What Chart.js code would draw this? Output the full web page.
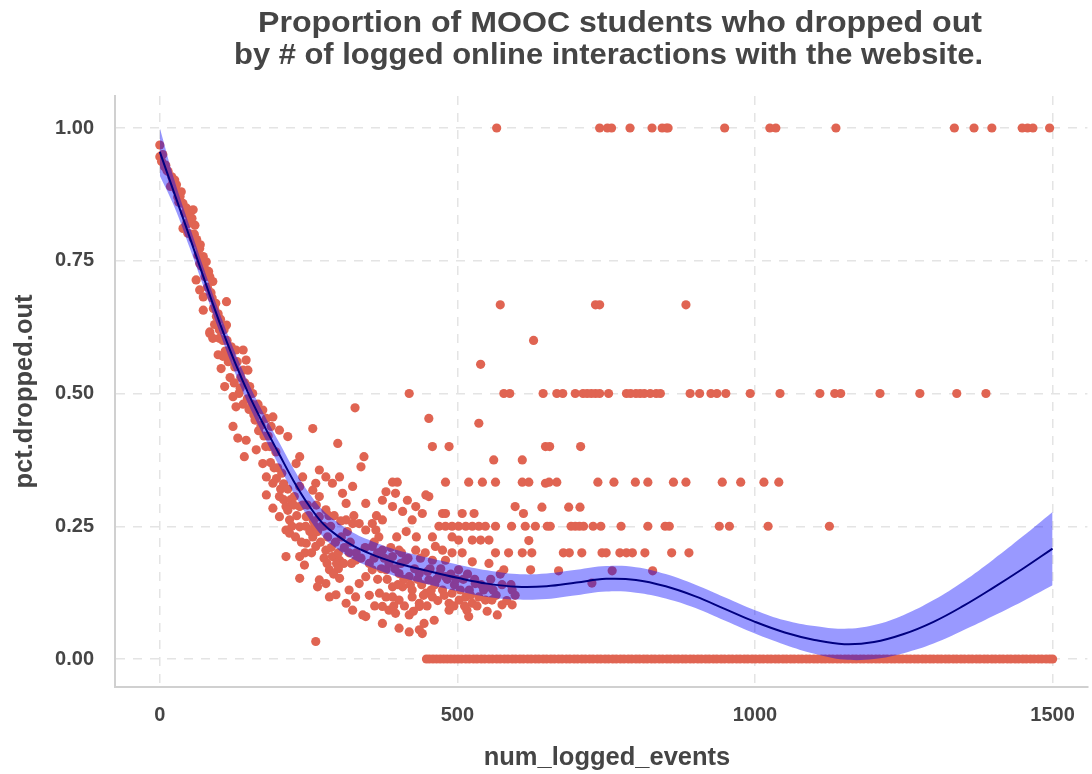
<!DOCTYPE html>
<html>
<head>
<meta charset="utf-8">
<script src="https://cdn.jsdelivr.net/npm/chart.js@4.4.1/dist/chart.umd.min.js"></script>
<style>
  html, body { margin: 0; padding: 0; background: #ffffff; }
  #wrap { width: 1092px; height: 774px; position: relative; }
</style>
</head>
<body>
<div id="wrap"><canvas id="c" width="1092" height="774"></canvas></div>
<script>
// ---------------- DATA ----------------
const titleLines = ['Proportion of MOOC students who dropped out', 'by # of logged online interactions with the website.'];
const xAxisTitle = 'num_logged_events';
const yAxisTitle = 'pct.dropped.out';

const xTicks = [0, 500, 1000, 1500];
const xTickLabels = ['0', '500', '1000', '1500'];
const yTicks = [0, 0.25, 0.5, 0.75, 1];
const yTickLabels = ['0.00', '0.25', '0.50', '0.75', '1.00'];

// loess smoother and its confidence band
const smoothX     = [0, 25, 50, 75, 100, 125, 150, 175, 200, 225, 250, 275, 300, 325, 350, 375, 400, 450, 500, 550, 600, 650, 700, 750, 800, 850, 900, 950, 1000, 1050, 1100, 1150, 1200, 1250, 1300, 1350, 1400, 1450, 1500];
const smoothFit   = [0.955, 0.875, 0.795, 0.714, 0.635, 0.562, 0.497, 0.44, 0.387, 0.335, 0.29, 0.254, 0.231, 0.213, 0.2, 0.189, 0.18, 0.166, 0.153, 0.142, 0.136, 0.137, 0.144, 0.151, 0.149, 0.137, 0.118, 0.094, 0.07, 0.05, 0.036, 0.028, 0.032, 0.047, 0.07, 0.1, 0.134, 0.17, 0.208];
const smoothLower = [0.91, 0.85, 0.775, 0.696, 0.617, 0.543, 0.477, 0.419, 0.365, 0.312, 0.266, 0.229, 0.206, 0.188, 0.175, 0.164, 0.155, 0.141, 0.128, 0.117, 0.112, 0.113, 0.12, 0.127, 0.125, 0.114, 0.096, 0.072, 0.048, 0.027, 0.01, -0.001, 0.0, 0.011, 0.029, 0.054, 0.081, 0.109, 0.139];
const smoothUpper = [1.0, 0.9, 0.815, 0.732, 0.653, 0.581, 0.517, 0.461, 0.409, 0.358, 0.314, 0.279, 0.256, 0.238, 0.225, 0.214, 0.205, 0.191, 0.178, 0.167, 0.16, 0.161, 0.168, 0.175, 0.173, 0.16, 0.14, 0.116, 0.092, 0.073, 0.062, 0.057, 0.064, 0.083, 0.111, 0.146, 0.187, 0.231, 0.277];

// scattered students' groups: [num_logged_events, pct.dropped.out]
const cloudPoints = [
  [0,0.968],[0,0.946],[3,0.937],[8,0.927],[14,0.918],[20,0.908],[25,0.902],[28,0.893],[28,0.883],[34,0.871],
  [39,0.858],[45,0.849],[56,0.846],[50,0.833],[59,0.817],[45,0.82],[39,0.811],[47,0.802],[56,0.792],[61,0.783],
  [67,0.773],[73,0.758],[78,0.748],[67,0.745],[75,0.736],[84,0.72],[89,0.711],[61,0.714],[67,0.695],[73,0.682],
  [112,0.673],[92,0.66],[73,0.657],[95,0.645],[112,0.629],[84,0.616],[100,0.604],
  [10,0.93],[18,0.89],[30,0.87],[42,0.84],[52,0.8],[64,0.76],[70,0.74],[80,0.7],[86,0.69],[96,0.63],[104,0.62],[106,0.6],
  [5,0.95],[12,0.92],[22,0.9],[32,0.86],[36,0.88],[48,0.82],[54,0.83],[58,0.8],[62,0.79],[68,0.78],
  [72,0.75],[76,0.72],[82,0.73],[88,0.68],[90,0.66],[94,0.67],[98,0.65],[102,0.64],[108,0.62],[113,0.6],
  [116,0.58],[120,0.57],[126,0.55],[130,0.56],[135,0.51],[143,0.52],[147,0.49],[155,0.48],[158,0.46],[166,0.43],
  [175,0.42],[178,0.4],[186,0.37],[192,0.36],[196,0.34],[203,0.32],[208,0.3],
  [84,0.613],[89,0.604],[98,0.573],[103,0.547],[109,0.513],[120,0.588],[128,0.582],[140,0.582],[145,0.563],[140,0.544],
  [148,0.544],[123,0.494],[128,0.475],[123,0.438],[131,0.416],[142,0.381],[151,0.513],[156,0.5],[162,0.469],[173,0.469],
  [179,0.453],[190,0.456],[187,0.438],[201,0.431],[215,0.419],[145,0.412],[162,0.394],[173,0.368],[179,0.343],[190,0.331],
  [179,0.309],[201,0.306],[212,0.287],[190,0.284],[201,0.268],[218,0.262],[212,0.243],[218,0.237],[235,0.249],[246,0.268],
  [235,0.287],[226,0.306],[235,0.325],[240,0.343],[257,0.434],[229,0.368],[235,0.381],[268,0.356],[279,0.343],[262,0.331],
  [290,0.331],[302,0.343],[307,0.312],[313,0.293],[324,0.325],[299,0.406],[328,0.473],[343,0.381],[338,0.362],[346,0.293],
  [257,0.318],[268,0.306],[279,0.281],[268,0.268],[257,0.23],[246,0.218],[262,0.212],[279,0.205],[290,0.193],[302,0.186],
  [285,0.168],[268,0.149],[279,0.142],[285,0.117],[296,0.121],[313,0.105],[324,0.092],[341,0.083],[346,0.08],[212,0.193],
  [235,0.193],[243,0.177],[235,0.152],[265,0.136],[262,0.033],[329,0.186],[313,0.262],[324,0.255],[335,0.255],[346,0.243],
  [357,0.255],[363,0.243],[374,0.262],[380,0.315],[396,0.312],[374,0.299],[391,0.287],[408,0.278],[416,0.299],[424,0.262],
  [430,0.287],[447,0.309],[441,0.274],[452,0.306],[475,0.274],[480,0.274],[508,0.274],[528,0.274],[458,0.23],[491,0.23],
  [502,0.224],[525,0.224],[539,0.224],[553,0.224],[463,0.212],[475,0.205],[458,0.186],[480,0.186],[525,0.183],[553,0.18],
  [578,0.168],[623,0.168],[502,0.168],[480,0.155],[530,0.142],[553,0.136],[592,0.13],[357,0.212],[374,0.205],[391,0.193],
  [402,0.205],[413,0.186],[430,0.205],[380,0.168],[402,0.161],[419,0.155],[436,0.161],[452,0.149],[369,0.124],[380,0.117],
  [391,0.117],[402,0.111],[424,0.117],[436,0.105],[447,0.124],[458,0.117],[475,0.13],[491,0.124],[486,0.105],[503,0.111],
  [514,0.117],[525,0.105],[536,0.117],[547,0.111],[558,0.111],[575,0.102],[592,0.102],[374,0.099],[385,0.092],[396,0.086],
  [419,0.083],[436,0.099],[374,0.067],[402,0.058],[419,0.051],[436,0.055],[441,0.048],[444,0.067],[461,0.073],[486,0.092],
  [516,0.092],[519,0.08],[567,0.083],[391,0.136],[408,0.136],[424,0.13],[346,0.155],[357,0.168],[335,0.142],[329,0.117],
  [318,0.13],[302,0.152],[458,0.4],[486,0.4],[452,0.453],[539,0.555],[628,0.6],[536,0.444],[561,0.375],[609,0.375],
  [648,0.4],[655,0.4],[707,0.4],[597,0.287],[611,0.274],[642,0.286],[687,0.286],[706,0.286],[620,0.223],[648,0.331],
  [670,0.166],[760,0.166],[828,0.166],[726,0.143],
  [150,0.47],[160,0.45],[165,0.48],[170,0.44],[182,0.42],[185,0.4],[195,0.39],[198,0.36],[205,0.35],[208,0.33],
  [215,0.32],[220,0.3],[225,0.29],[230,0.27],[240,0.29],[245,0.25],[250,0.27],[252,0.24],[258,0.26],[265,0.24],
  [270,0.22],[275,0.25],[282,0.23],[288,0.21],[295,0.22],[300,0.2],[305,0.23],[310,0.21],[318,0.2],[322,0.18],
  [330,0.2],[338,0.19],[345,0.21],[352,0.18],[360,0.19],[366,0.2],[372,0.17],[385,0.18],[395,0.17],[405,0.18],
  [410,0.15],[428,0.17],[440,0.14],[450,0.165],[465,0.15],[470,0.16],[495,0.14],[510,0.15],[520,0.13],[540,0.14],
  [560,0.13],[575,0.14],[110,0.58],[115,0.56],[118,0.53],[125,0.52],[133,0.5],[136,0.53],[140,0.48],[100,0.62],
  [106,0.57],[92,0.63],
  [215,0.28],[222,0.25],[228,0.23],[238,0.22],[244,0.2],[248,0.29],[255,0.2],[260,0.25],[263,0.29],[272,0.25],
  [276,0.19],[284,0.27],[287,0.25],[293,0.27],[297,0.18],[304,0.26],[309,0.18],[315,0.24],[320,0.22],[326,0.27],
  [300,0.17],[292,0.16],[281,0.18],
  [360,0.22],[366,0.15],[368,0.23],[377,0.19],[382,0.15],[388,0.21],[393,0.1],[398,0.23],[400,0.14],[406,0.2],
  [411,0.1],[414,0.24],[417,0.19],[421,0.14],[426,0.09],[431,0.23],[433,0.15],[438,0.19],[443,0.12],[446,0.2],
  [449,0.1],[454,0.17],[456,0.13],[361,0.1],[352,0.12],[364,0.27],
  [462,0.14],[467,0.11],[472,0.17],[478,0.12],[483,0.15],[489,0.16],[494,0.1],[498,0.15],[505,0.13],[512,0.1],
  [517,0.16],[522,0.12],[529,0.15],[533,0.1],[544,0.13],[550,0.09],[556,0.15],[565,0.12],[572,0.16],[583,0.11],
  [590,0.14],[597,0.12]
];

// groups sitting exactly on common proportions
const rowLevels = [1, 0.667, 0.5, 0.333, 0.25, 0.2, 0];
const rowOne = [566, 739, 752, 759, 790, 827, 844, 851, 854, 949, 1025, 1035, 1136, 1335, 1368, 1398, 1449, 1458, 1467, 1495];
const rowTwoThirds = [572, 732, 739, 884];
const rowHalf = [419, 578, 588, 644, 667, 677, 698, 711, 718, 725, 732, 739, 754, 784, 791, 800, 807, 814, 824, 834, 841, 891, 907, 926, 936, 951, 992, 1042, 1109, 1134, 1144, 1210, 1277, 1339, 1388];
const rowThird = [391, 399, 480, 519, 542, 564, 609, 620, 654, 667, 736, 763, 799, 820, 863, 884, 945, 976, 1015, 1040];
const rowQuarter = [469, 480, 491, 502, 514, 525, 536, 547, 564, 591, 614, 631, 651, 656, 691, 698, 705, 712, 728, 741, 775, 820, 849, 856, 940, 957, 1022, 1125];
const rowFifth = [491, 508, 564, 586, 609, 625, 678, 688, 709, 743, 750, 773, 784, 794, 815, 860, 889];
const rowZero = [448,453,459,465,471,477,483,489,495,501,507,514,520,527,533,540,546,553,559,566,572,579,585,592,598,605,611,618,624,631,637,644,650,657,663,670,676,683,689,696,702,709,715,722,728,735,741,748,754,761,767,774,780,787,793,800,806,813,819,826,832,839,845,852,858,865,871,878,884,891,897,904,910,917,923,930,936,943,949,956,962,969,975,982,988,995,1001,1008,1014,1021,1027,1034,1040,1047,1053,1060,1066,1073,1079,1086,1092,1099,1105,1112,1118,1125,1131,1138,1144,1151,1157,1164,1170,1177,1183,1190,1196,1203,1209,1216,1222,1229,1235,1242,1248,1255,1261,1268,1274,1281,1287,1294,1300,1307,1313,1320,1326,1333,1339,1346,1352,1359,1365,1372,1378,1385,1391,1398,1404,1411,1417,1424,1430,1437,1443,1450,1456,1463,1469,1476,1482,1489,1495,1500];
const rowXs = [rowOne, rowTwoThirds, rowHalf, rowThird, rowQuarter, rowFifth, rowZero];

// ---------------- BUILD ----------------
const scatterData = cloudPoints.map(p => ({x: p[0], y: p[1]}));
rowXs.forEach((xs, i) => xs.forEach(x => scatterData.push({x: x, y: rowLevels[i]})));
const fitData = smoothX.map((x, i) => ({x: x, y: smoothFit[i]}));
const lowerData = smoothX.map((x, i) => ({x: x, y: smoothLower[i]}));
const upperData = smoothX.map((x, i) => ({x: x, y: smoothUpper[i]}));

const FAMILY = '"Liberation Sans", Arial, Helvetica, sans-serif';
const TEXT_COLOR = '#454545';

const textPlugin = {
  id: 'textPlugin',
  afterDraw(chart) {
    const c = chart.ctx;
    c.save();
    c.fillStyle = TEXT_COLOR;
    c.textBaseline = 'alphabetic';
    function stretched(txt, left, right, baseline, size) {
      c.font = 'bold ' + size + 'px ' + FAMILY;
      const w = c.measureText(txt).width;
      c.save();
      c.translate(left, baseline);
      c.scale((right - left) / w, 1);
      c.textAlign = 'left';
      c.fillText(txt, 0, 0);
      c.restore();
    }
    stretched(titleLines[0], 258, 982, 32, 29);
    stretched(titleLines[1], 234, 983, 64, 29);
    // x axis title
    c.font = 'bold 25.5px ' + FAMILY;
    c.textAlign = 'center';
    c.fillText(xAxisTitle, 607, 765);
    // y axis title
    c.save();
    c.translate(32, 391.5);
    c.rotate(-Math.PI / 2);
    c.fillText(yAxisTitle, 0, 0);
    c.restore();
    c.restore();
  }
};

new Chart(document.getElementById('c'), {
  type: 'scatter',
  data: {
    datasets: [
      {
        type: 'scatter', label: 'groups', data: scatterData,
        backgroundColor: '#E06452', borderWidth: 0, pointRadius: 4.6, pointHoverRadius: 4.6, order: 3
      },
      {
        type: 'line', label: 'upper', data: upperData, fill: '+1',
        backgroundColor: 'rgba(0,0,255,0.4)', borderColor: 'rgba(0,0,0,0)', borderWidth: 0,
        pointRadius: 0, tension: 0.4, order: 2
      },
      {
        type: 'line', label: 'lower', data: lowerData, fill: false,
        borderColor: 'rgba(0,0,0,0)', borderWidth: 0, pointRadius: 0, tension: 0.4, order: 2
      },
      {
        type: 'line', label: 'fit', data: fitData, fill: false,
        borderColor: '#000080', borderWidth: 2, pointRadius: 0, tension: 0.4, order: 1
      }
    ]
  },
  options: {
    responsive: false,
    animation: false,
    devicePixelRatio: 1,
    events: [],
    layout: { padding: { top: 96, right: 0, bottom: 0, left: 0 } },
    plugins: { legend: { display: false }, title: { display: false }, tooltip: { enabled: false } },
    scales: {
      x: {
        type: 'linear', min: -75.3, max: 1558.5,
        afterBuildTicks: s => { s.ticks = xTicks.map(v => ({value: v})); },
        afterFit: s => { s.height = 87; },
        grid: { color: '#e4e4e4', lineWidth: 1.5, drawTicks: false },
        border: { display: true, color: '#d0d0d0', width: 2, dash: [9, 8] },
        ticks: {
          padding: 16, maxRotation: 0, autoSkip: false, color: TEXT_COLOR,
          font: { family: FAMILY, size: 20, weight: 'bold' },
          callback: (v, i) => xTickLabels[i]
        }
      },
      y: {
        type: 'linear', min: -0.0527, max: 1.0603,
        afterBuildTicks: s => { s.ticks = yTicks.map(v => ({value: v})); },
        afterFit: s => { s.width = 115; },
        grid: { color: '#e4e4e4', lineWidth: 1.5, drawTicks: false },
        border: { display: true, color: '#d0d0d0', width: 2, dash: [9, 8] },
        ticks: {
          padding: 21, autoSkip: false, color: TEXT_COLOR,
          font: { family: FAMILY, size: 20, weight: 'bold' },
          callback: (v, i) => yTickLabels[i]
        }
      }
    }
  },
  plugins: [textPlugin]
});
</script>
</body>
</html>
